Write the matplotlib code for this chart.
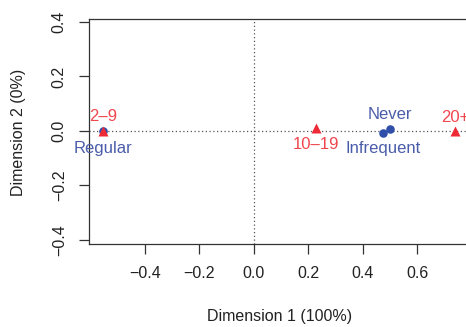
import matplotlib
matplotlib.use("Agg")
import matplotlib.pyplot as plt

# row categories (blue) and column categories (red) on the two dimensions
row_labels = ["Regular", "Infrequent", "Never"]
row_dim1 = [-0.552, 0.475, 0.498]
row_dim2 = [0.0, -0.007, 0.006]

col_labels = ["2\u20139", "10\u201319", "20+"]
col_dim1 = [-0.552, 0.228, 0.738]
col_dim2 = [0.0, 0.01, 0.0]

xticks = [-0.4, -0.2, 0.0, 0.2, 0.4, 0.6]
yticks = [-0.4, -0.2, 0.0, 0.2, 0.4]

blue = "#2F4FA8"
red = "#EE2A36"
blue_txt = "#4A5DAA"
red_txt = "#F0464E"

plt.rcParams["font.family"] = ["Liberation Sans", "DejaVu Sans"]

fig = plt.figure(figsize=(4.66, 3.27), dpi=100)
ax = fig.add_axes([89 / 466, 1 - 244 / 327, 396.5 / 466, 225 / 327])
ax.set_xlim(-0.605, 0.85)
ax.set_ylim(-0.415, 0.411)

ax.axhline(0, color="#555555", lw=0.9, ls=(0, (1, 2)), zorder=1)
ax.axvline(0, color="#555555", lw=0.9, ls=(0, (1, 2)), zorder=1)

ax.scatter(row_dim1, row_dim2, s=38, color=blue, marker="o", zorder=3, linewidths=0)
ax.scatter(col_dim1, col_dim2, s=52, color=red, marker="^", zorder=4, linewidths=0)

fs = 12
# label placement: above or below each point
ax.annotate(row_labels[0], (row_dim1[0], row_dim2[0]), xytext=(0, -7), textcoords="offset points",
            ha="center", va="top", color=blue_txt, fontsize=fs)
ax.annotate(row_labels[1], (row_dim1[1], row_dim2[1]), xytext=(0, -6), textcoords="offset points",
            ha="center", va="top", color=blue_txt, fontsize=fs)
ax.annotate(row_labels[2], (row_dim1[2], row_dim2[2]), xytext=(0, 5), textcoords="offset points",
            ha="center", va="bottom", color=blue_txt, fontsize=fs)
ax.annotate(col_labels[0], (col_dim1[0], col_dim2[0]), xytext=(0, 5), textcoords="offset points",
            ha="center", va="bottom", color=red_txt, fontsize=fs)
ax.annotate(col_labels[1], (col_dim1[1], col_dim2[1]), xytext=(0, -6), textcoords="offset points",
            ha="center", va="top", color=red_txt, fontsize=fs)
ax.annotate(col_labels[2], (col_dim1[2], col_dim2[2]), xytext=(0, 4), textcoords="offset points",
            ha="center", va="bottom", color=red_txt, fontsize=fs)

ax.set_xticks(xticks)
ax.set_yticks(yticks)
ax.set_xticklabels([f"{v:.1f}".replace("-", "\u2212") for v in xticks])
ax.set_yticklabels([f"{v:.1f}".replace("-", "\u2212") for v in yticks], rotation=90, va="center")
ax.tick_params(direction="out", length=7, width=0.9, colors="#333333", labelcolor="#222222",
               labelsize=11.5, pad=9)
for s in ax.spines.values():
    s.set_linewidth(0.9)
    s.set_color("#333333")

fig.text(280 / 466, 1 - 316 / 327, "Dimension 1 (100%)", ha="center", va="center",
         fontsize=11.5, color="#222222")
fig.text(19 / 466, 1 - 132 / 327, "Dimension 2 (0%)", ha="center", va="center",
         fontsize=11.5, color="#222222", rotation=90)

fig.savefig("out.png", dpi=100)
